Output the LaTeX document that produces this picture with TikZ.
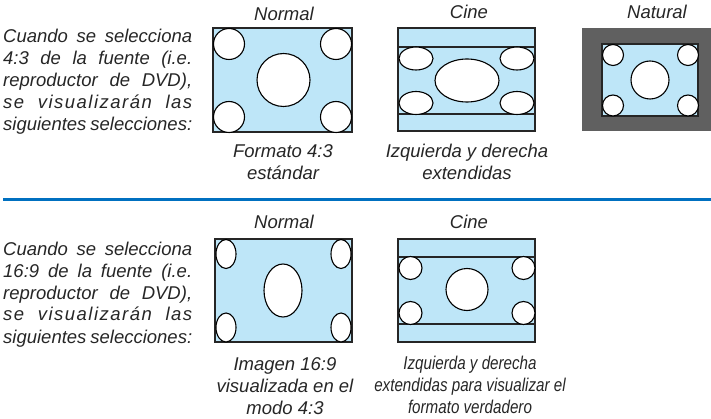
\documentclass[tikz,border=0pt]{standalone}
\usepackage{fontspec}
\setmainfont{Liberation Sans}
\newfontfamily\estrecha[FakeStretch=0.82]{Liberation Sans}
\usetikzlibrary{positioning}

\definecolor{azulclaro}{RGB}{190,230,248}
\definecolor{grismarco}{RGB}{96,96,96}
\definecolor{azullinea}{RGB}{0,112,192}

\newcommand{\espaciado}[1]{{\addfontfeature{LetterSpace=8}#1}}

\tikzset{
    pantalla/.style={fill=azulclaro, draw=black!85, line width=1.3pt},
    objeto/.style={fill=white, draw=black, line width=1.1pt},
    rotulo/.style={font=\fontsize{18.5}{22}\selectfont\itshape, text=black!85, inner sep=0pt},
    bloque/.style={rotulo, text width=189pt, align=justify},
    leyenda/.style={rotulo, align=center},
}

\begin{document}
\begin{tikzpicture}[x=1pt, y=-1pt]

    \useasboundingbox (0,0) rectangle (711,419);

    % 1. Textos de la izquierda
    \node[bloque, anchor=base west] (texto43) at (3,43)
        {Cuando se selecciona\linebreak 4:3 de la fuente (i.e.\linebreak reproductor de DVD),\linebreak \espaciado{se visualizarán las}\linebreak siguientes selecciones:};
    \node[bloque, anchor=base west] (texto169) at (3,255)
        {Cuando se selecciona\linebreak 16:9 de la fuente (i.e.\linebreak reproductor de DVD),\linebreak \espaciado{se visualizarán las}\linebreak siguientes selecciones:};

    % 2. Fuente 4:3 - Normal
    \node[rotulo, anchor=base] (normalA) at (284,21) {Normal};
    \draw[pantalla] (213,28) rectangle (352,132);
    \foreach \cx/\cy in {229/44, 336/44, 229/117, 336/117}
        \draw[objeto] (\cx,\cy) circle (15.5);
    \draw[objeto] (283.5,80) circle (26.5);
    \node[leyenda, anchor=base] (formato) at (283,180) {Formato 4:3\\estándar};

    % 3. Fuente 4:3 - Cine
    \node[rotulo, anchor=base] (cineA) at (469,19) {Cine};
    \draw[pantalla] (398,28) rectangle (535,131);
    \draw[pantalla] (398,47) rectangle (535,114);
    \foreach \cx/\cy in {416/58.5, 517/58.5, 416/103, 517/103}
        \draw[objeto] (\cx,\cy) ellipse (17 and 11.5);
    \draw[objeto] (467,80.5) ellipse (32 and 21.5);
    \node[leyenda, anchor=base] (extendidasA) at (467,180) {Izquierda y derecha\\extendidas};

    % 4. Fuente 4:3 - Natural
    \node[rotulo, anchor=base] (natural) at (657,19) {Natural};
    \fill[grismarco] (582,28) rectangle (711,131);
    \draw[pantalla] (602,44) rectangle (698,116);
    \foreach \cx/\cy in {613/55, 688/55, 613/105.5, 688/105.5}
        \draw[objeto] (\cx,\cy) circle (10.5);
    \draw[objeto] (650,80) circle (19);

    % 5. Linea separadora
    \draw[azullinea, line width=2.2pt] (3,199.5) -- (711,199.5);

    % 6. Fuente 16:9 - Normal
    \node[rotulo, anchor=base] (normalB) at (284,229) {Normal};
    \draw[pantalla] (215,239) rectangle (352,342);
    \foreach \cx/\cy in {226/254, 341/254, 226/327.5, 341/327.5}
        \draw[objeto] (\cx,\cy) ellipse (10 and 14.5);
    \draw[objeto] (283,290.5) ellipse (19 and 26.5);
    \node[leyenda, anchor=base] (imagen) at (285,414) {Imagen 16:9\\visualizada en el\\modo 4:3};

    % 7. Fuente 16:9 - Cine
    \node[rotulo, anchor=base] (cineB) at (469,229) {Cine};
    \draw[pantalla] (398,239) rectangle (535,342);
    \draw[pantalla] (398,257) rectangle (535,324);
    \foreach \cx/\cy in {410.5/268, 523.5/268, 410.5/313, 523.5/313}
        \draw[objeto] (\cx,\cy) circle (11.5);
    \draw[objeto] (467,289.5) circle (21);
    \node[leyenda, font=\fontsize{18.5}{22}\estrecha\itshape, anchor=base] (extendidasB) at (470,413)
        {Izquierda y derecha\\extendidas para visualizar el\\formato verdadero};

\end{tikzpicture}
\end{document}
